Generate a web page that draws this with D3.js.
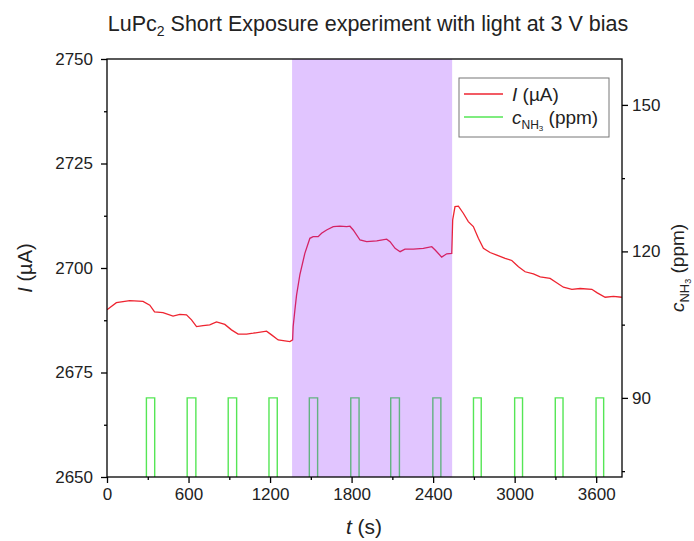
<!DOCTYPE html>
<html>
<head>
<meta charset="utf-8">
<script src="https://cdn.jsdelivr.net/npm/d3@7"></script>
<style>
body { margin: 0; background: #fff; }
text { font-family: "Liberation Sans", Arial, sans-serif; fill: #222; }
</style>
</head>
<body>
<div id="chart"></div>
<script>
// Data
var timeS = [0, 69, 167, 265, 315, 350, 412, 486, 536, 585, 622, 659, 707, 756, 806, 867, 916, 965, 1027, 1076,
	1174, 1211, 1260, 1346, 1366, 1370, 1383, 1395, 1420, 1456, 1493, 1517, 1554, 1579, 1616, 1665, 1714, 1764,
	1788, 1812, 1862, 1911, 1985, 2058, 2083, 2120, 2157, 2193, 2254, 2328, 2390, 2415, 2463, 2500, 2537, 2544,
	2561, 2586, 2622, 2659, 2696, 2733, 2770, 2819, 2869, 2930, 2979, 3028, 3077, 3138, 3188, 3261, 3298, 3359,
	3421, 3482, 3568, 3605, 3666, 3727, 3789];
var currentUA = [2690.0, 2691.7, 2692.2, 2692.0, 2691.1, 2689.5, 2689.3, 2688.5, 2688.9, 2688.8, 2687.6, 2686.0,
	2686.2, 2686.4, 2687.1, 2686.5, 2685.2, 2684.2, 2684.2, 2684.4, 2684.9, 2684.0, 2682.8, 2682.4, 2682.8, 2686.0,
	2690.0, 2693.5, 2698.5, 2703.5, 2707.1, 2707.5, 2707.5, 2708.3, 2709.1, 2709.9, 2710.0, 2709.9, 2710.0, 2709.1,
	2706.7, 2706.3, 2706.5, 2706.9, 2706.3, 2704.7, 2703.9, 2704.5, 2704.5, 2704.7, 2705.1, 2704.3, 2702.6, 2703.4,
	2703.5, 2711.5, 2714.7, 2714.8, 2713.1, 2711.1, 2709.9, 2707.1, 2704.7, 2703.7, 2703.1, 2702.3, 2701.8, 2700.3,
	2699.1, 2698.6, 2697.9, 2697.5, 2696.7, 2695.4, 2694.9, 2695.1, 2694.9, 2694.1, 2693.0, 2693.2, 2693.0];

// NH3 pulses (s) and level (ppm)
var pulseStart = [290, 590, 892, 1192, 1489, 1794, 2088, 2398, 2697, 3000, 3299, 3599];
var pulseEnd = [351, 654, 954, 1253, 1550, 1855, 2152, 2457, 2754, 3058, 3356, 3655];
var pulseLevel = 90, baseLevel = 0;

// light on window (s)
var lightOn = [1362, 2540];

var xTicks = [0, 600, 1200, 1800, 2400, 3000, 3600],
	xMinor = [300, 900, 1500, 2100, 2700, 3300],
	yTicks = [2650, 2675, 2700, 2725, 2750],
	yMinor = [2662.5, 2687.5, 2712.5, 2737.5],
	y2Ticks = [90, 120, 150],
	y2Minor = [75, 105, 135];

var width = 694,
	height = 541,
	m = {left: 107, right: 622, top: 59, bottom: 477};

var svg = d3.select("#chart").append("svg")
	.attr("width", width)
	.attr("height", height);

var x = d3.scaleLinear().domain([0, 3790]).range([m.left, m.right]),
	y = d3.scaleLinear().domain([2650, 2750]).range([m.bottom, m.top]),
	y2 = d3.scaleLinear().domain([73.8, 159.4]).range([m.bottom, m.top]);

svg.append("clipPath").attr("id", "clip")
	.append("rect")
	.attr("x", m.left).attr("y", m.top)
	.attr("width", m.right - m.left).attr("height", m.bottom - m.top);

var plot = svg.append("g").attr("clip-path", "url(#clip)");

// step series for the NH3 concentration
var steps = [[0, baseLevel]];
pulseStart.forEach(function(s, i) {
	steps.push([s, baseLevel], [s, pulseLevel], [pulseEnd[i], pulseLevel], [pulseEnd[i], baseLevel]);
});
steps.push([3790, baseLevel]);

plot.append("path")
	.datum(steps)
	.attr("fill", "none")
	.attr("stroke", "#55e655")
	.attr("stroke-width", 1.4)
	.attr("d", d3.line().x(function(d) { return x(d[0]); }).y(function(d) { return y2(d[1]); }));

plot.append("path")
	.datum(timeS)
	.attr("fill", "none")
	.attr("stroke", "#ee2430")
	.attr("stroke-width", 1.3)
	.attr("d", d3.line()
		.x(function(d) { return x(d); })
		.y(function(d, i) { return y(currentUA[i]); }));

// light shading, on top of the traces
plot.append("rect")
	.attr("x", x(lightOn[0]))
	.attr("y", m.top)
	.attr("width", x(lightOn[1]) - x(lightOn[0]))
	.attr("height", m.bottom - m.top)
	.attr("fill", "rgb(140,30,255)")
	.attr("fill-opacity", 0.26);

// frame
svg.append("rect")
	.attr("x", m.left).attr("y", m.top)
	.attr("width", m.right - m.left).attr("height", m.bottom - m.top)
	.attr("fill", "none").attr("stroke", "#000").attr("stroke-width", 1.3);

function styleAxis(g) {
	g.select(".domain").remove();
	g.selectAll("line").attr("stroke", "#000").attr("stroke-width", 1.3);
	g.selectAll("text").attr("font-size", 17).attr("fill", "#222");
}

var fmt = d3.format("d");

svg.append("g").attr("transform", "translate(0," + m.bottom + ")")
	.call(d3.axisBottom(x).tickValues(xTicks).tickFormat(fmt).tickSize(6).tickPadding(5))
	.call(styleAxis);
svg.append("g").attr("transform", "translate(0," + m.bottom + ")")
	.call(d3.axisBottom(x).tickValues(xMinor).tickSize(3).tickFormat(""))
	.call(styleAxis);

svg.append("g").attr("transform", "translate(" + m.left + ",0)")
	.call(d3.axisLeft(y).tickValues(yTicks).tickFormat(fmt).tickSize(6).tickPadding(8))
	.call(styleAxis);
svg.append("g").attr("transform", "translate(" + m.left + ",0)")
	.call(d3.axisLeft(y).tickValues(yMinor).tickSize(3).tickFormat(""))
	.call(styleAxis);

svg.append("g").attr("transform", "translate(" + m.right + ",0)")
	.call(d3.axisRight(y2).tickValues(y2Ticks).tickFormat(fmt).tickSize(6).tickPadding(4))
	.call(styleAxis);
svg.append("g").attr("transform", "translate(" + m.right + ",0)")
	.call(d3.axisRight(y2).tickValues(y2Minor).tickSize(3).tickFormat(""))
	.call(styleAxis);

// title
var title = svg.append("text")
	.attr("x", 368).attr("y", 31)
	.attr("text-anchor", "middle")
	.attr("font-size", 21.5);
title.append("tspan").text("LuPc");
title.append("tspan").attr("dy", 5).attr("font-size", 14).text("2");
title.append("tspan").attr("dy", -5).text(" Short Exposure experiment with light at 3 V bias");

// axis titles
var xl = svg.append("text")
	.attr("x", 364).attr("y", 534)
	.attr("text-anchor", "middle")
	.attr("font-size", 21);
xl.append("tspan").attr("font-style", "italic").text("t");
xl.append("tspan").text(" (s)");

var yl = svg.append("text")
	.attr("transform", "translate(32,268) rotate(-90)")
	.attr("text-anchor", "middle")
	.attr("font-size", 20);
yl.append("tspan").attr("font-style", "italic").text("I");
yl.append("tspan").text(" (µA)");

var y2l = svg.append("text")
	.attr("transform", "translate(684,268) rotate(-90)")
	.attr("text-anchor", "middle")
	.attr("font-size", 19);
y2l.append("tspan").attr("font-style", "italic").text("c");
y2l.append("tspan").attr("dy", 5).attr("font-size", 13).text("NH");
y2l.append("tspan").attr("dy", 2).attr("font-size", 9).text("3");
y2l.append("tspan").attr("dy", -7).text(" (ppm)");

// legend
var lg = svg.append("g");
lg.append("rect")
	.attr("x", 459).attr("y", 78)
	.attr("width", 150).attr("height", 59)
	.attr("fill", "#fff").attr("stroke", "#777").attr("stroke-width", 1);
lg.append("line").attr("x1", 464).attr("x2", 503).attr("y1", 94).attr("y2", 94)
	.attr("stroke", "#ee2430").attr("stroke-width", 1.3);
lg.append("line").attr("x1", 464).attr("x2", 503).attr("y1", 117).attr("y2", 117)
	.attr("stroke", "#55e655").attr("stroke-width", 1.4);
var l1 = lg.append("text").attr("x", 512).attr("y", 101).attr("font-size", 19);
l1.append("tspan").attr("font-style", "italic").text("I");
l1.append("tspan").text(" (µA)");
var l2 = lg.append("text").attr("x", 512).attr("y", 124).attr("font-size", 19);
l2.append("tspan").attr("font-style", "italic").text("c");
l2.append("tspan").attr("dy", 5).attr("font-size", 12).text("NH");
l2.append("tspan").attr("dy", 2).attr("font-size", 8).text("3");
l2.append("tspan").attr("dy", -7).text(" (ppm)");
</script>
</body>
</html>
